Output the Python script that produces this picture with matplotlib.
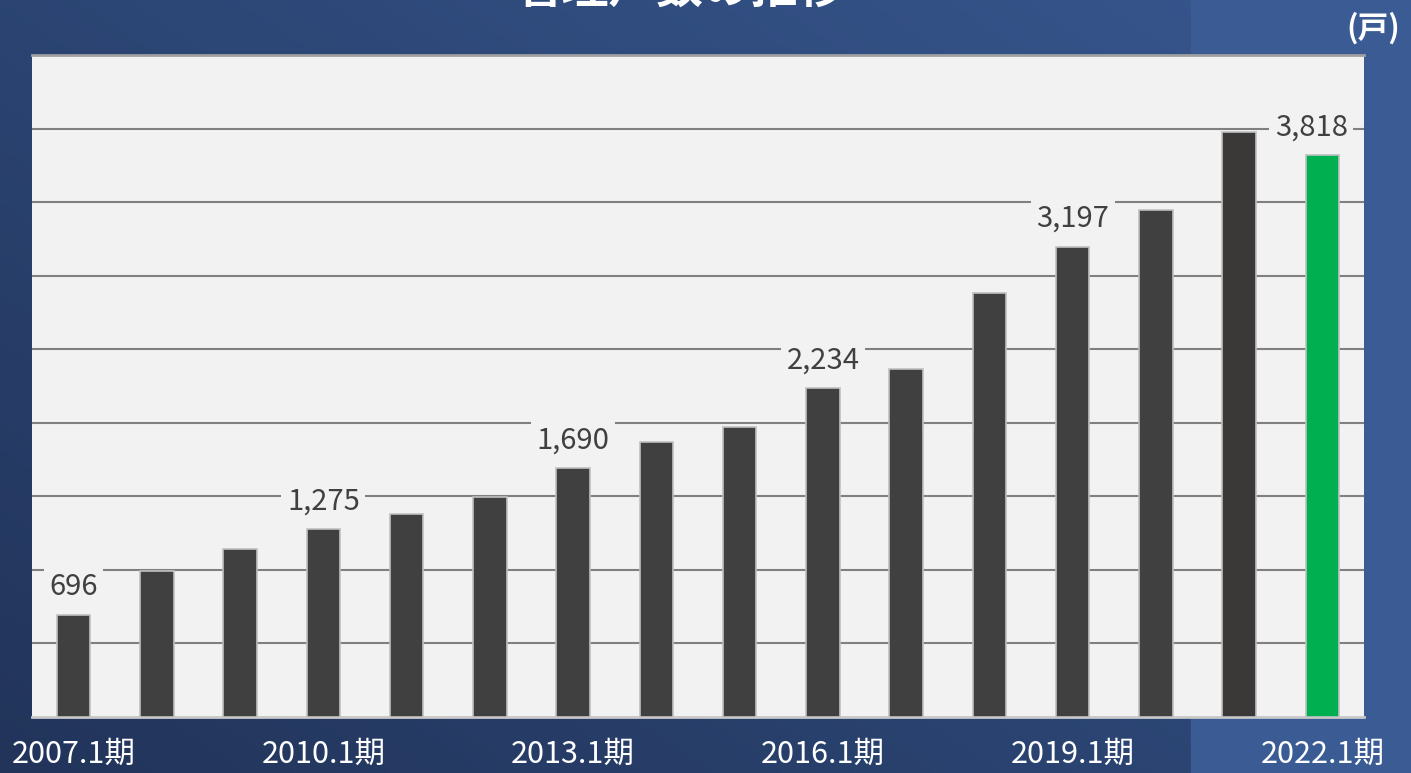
import numpy as np
import matplotlib.pyplot as plt
from matplotlib.colors import LinearSegmentedColormap
from matplotlib.patches import Rectangle

plt.rcParams['font.family'] = ['Noto Sans CJK JP', 'DejaVu Sans']

# data
periods = [f"{y}.1期" for y in range(2007, 2023)]
units = [696, 993, 1142, 1275, 1381, 1496, 1690, 1870, 1972, 2234,
         2366, 2883, 3197, 3448, 3978, 3818]
labeled = [0, 3, 6, 9, 12, 15]
label_values = ["696", "1,275", "1,690", "2,234", "3,197", "3,818"]
tick_idx = [0, 3, 6, 9, 12, 15]

W, H = 1411, 773
fig = plt.figure(figsize=(W / 100, H / 100), dpi=100)

# background gradient
bg = fig.add_axes([0, 0, 1, 1], zorder=0)
gx, gy = np.meshgrid(np.linspace(0, 1, 300), np.linspace(0, 1, 200))
grad = 0.55 * gx + 0.45 * gy
cmap = LinearSegmentedColormap.from_list("bg", ["#22345a", "#2c4675", "#38578f"])
bg.imshow(grad, cmap=cmap, origin="lower", extent=[0, 1, 0, 1], aspect="auto")
bg.add_patch(Rectangle((1191 / W, 0), 1 - 1191 / W, 1, color="#3a5b94", zorder=2))
bg.set_xlim(0, 1)
bg.set_ylim(0, 1)
bg.axis("off")

ax = fig.add_axes([32 / W, 1 - 717 / H, (1364 - 32) / W, (717 - 55) / H], zorder=1)
ax.set_facecolor("#f2f2f2")
x = np.arange(len(units))
colors = ["#404040"] * (len(units) - 1) + ["#00b050"]
colors[14] = "#3a3937"
ax.bar(x, units, width=0.4, color=colors, edgecolor="#c0c0c0", linewidth=1.2, zorder=3)

ax.set_xlim(-0.5, len(units) - 0.5)
ax.set_ylim(0, 4500)
ax.set_yticks(np.arange(500, 4500, 500))
ax.yaxis.grid(True, color="#808080", linewidth=1.5, zorder=1)
ax.set_axisbelow(True)
ax.tick_params(axis="y", left=False, labelleft=False)
ax.tick_params(axis="x", bottom=False, pad=12)
ax.set_xticks(tick_idx)
ax.set_xticklabels([periods[i] for i in tick_idx], color="white", fontsize=22)

for s in ["left", "right"]:
    ax.spines[s].set_visible(False)
ax.spines["top"].set_color("#a0a0a0")
ax.spines["top"].set_linewidth(2)
ax.spines["bottom"].set_color("#c8c8c8")
ax.spines["bottom"].set_linewidth(2)

for i, lab in zip(labeled, label_values):
    dx = -8 if i == len(units) - 1 else 0
    ax.annotate(lab, (i, units[i]), xytext=(dx, 20), textcoords="offset points",
                ha="center", va="center", fontsize=21, color="#404040", zorder=4,
                bbox=dict(facecolor="#f2f2f2", edgecolor="none", pad=4))

fig.text(680 / W, 1 - 3 / H, "管理戸数の推移", ha="center", va="baseline",
         fontsize=34, fontweight="bold", color="white")
fig.text(1373 / W, 1 - 28 / H, "(戸)", ha="center", va="center",
         fontsize=22, fontweight="bold", color="white")

fig.savefig("out.png", dpi=100)
